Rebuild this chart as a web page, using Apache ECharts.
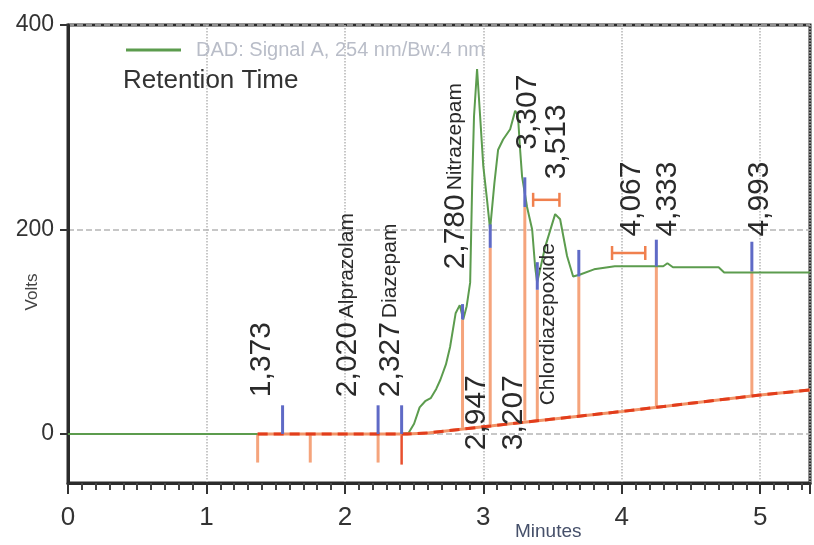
<!DOCTYPE html>
<html>
<head>
<meta charset="utf-8">
<script src="https://cdn.jsdelivr.net/npm/echarts@6/dist/echarts.min.js"></script>
<style>
  html, body { margin: 0; padding: 0; background: #fff; }
  #chart { width: 814px; height: 545px; }
</style>
</head>
<body>
<div id="chart"></div>
<script>
// DAD signal, [minutes, volts]
const signal = [
    [0, 0], [2.40, 0], [2.46, 1], [2.50, 10], [2.54, 26], [2.58, 32], [2.62, 35],
    [2.66, 44], [2.69, 53], [2.73, 68], [2.76, 85], [2.80, 118], [2.83, 126],
    [2.855, 112], [2.88, 125], [2.905, 148], [2.92, 246], [2.933, 311], [2.955, 357],
    [2.977, 311], [3.00, 262], [3.027, 229], [3.049, 200], [3.08, 245], [3.107, 278],
    [3.143, 288], [3.194, 298], [3.23, 316], [3.25, 312], [3.266, 278], [3.28, 252],
    [3.316, 222], [3.353, 200], [3.374, 164], [3.389, 148], [3.447, 183], [3.519, 215],
    [3.555, 210], [3.605, 174], [3.649, 154], [3.70, 156], [3.80, 161], [3.95, 164],
    [4.30, 164], [4.33, 167], [4.37, 163], [4.70, 163], [4.74, 158], [5.36, 158]
];
// integration baseline
const baseline = [[1.37, 0], [2.45, 0], [2.60, 1], [3.00, 7], [4.00, 22], [5.00, 38], [5.36, 43]];
// peak start/end marks: [minutes, low, high]
const orangeDrops = [
    [1.37, -28, 0], [1.75, -28, 0], [2.24, -28, 0],
    [2.85, 6, 112], [3.05, 9, 182], [3.30, 13, 222], [3.39, 14, 141],
    [3.69, 18, 154], [4.25, 27, 164], [4.94, 37, 159]
];
const redDrops = [[2.41, -30, 0]];
const blueTicks = [
    [1.55, 0, 28], [2.24, 0, 28], [2.41, 0, 28], [2.85, 112, 127], [3.05, 182, 205],
    [3.30, 222, 251], [3.39, 141, 168], [3.69, 154, 180], [4.25, 164, 190], [4.94, 159, 188]
];
// [from, to, volts]
const errorBars = [[3.36, 3.55, 229], [3.93, 4.17, 177]];
// [minutes, volts at label start, retention time, compound]
const peakLabels = [
    [1.40, 36, '1,373', ''],
    [2.02, 36, '2,020', 'Alprazolam'],
    [2.33, 36, '2,327', 'Diazepam'],
    [2.80, 161, '2,780', 'Nitrazepam'],
    [2.955, -16, '2,947', ''],
    [3.22, -16, '3,207', ''],
    [3.32, 278, '3,307', ''],
    [3.53, 249, '3,513', ''],
    [3.47, 28, '', 'Chlordiazepoxide'],
    [4.07, 193, '4,067', ''],
    [4.33, 193, '4,333', ''],
    [5.00, 193, '4,993', '']
];
const yTicks = [0, 200, 400];

const FONT = 'Liberation Sans';

function segments(color, width) {
    return function (params, api) {
        const a = api.coord([api.value(0), api.value(1)]);
        const b = api.coord([api.value(0), api.value(2)]);
        return {
            type: 'line',
            shape: { x1: a[0], y1: a[1], x2: b[0], y2: b[1] },
            style: { stroke: color, lineWidth: width }
        };
    };
}

const chart = echarts.init(document.getElementById('chart'));
chart.setOption({
    animation: false,
    textStyle: { fontFamily: FONT },
    title: {
        text: 'Retention Time',
        left: 118, top: 63,
        textStyle: { fontFamily: FONT, fontSize: 26, fontWeight: 'normal', color: '#333' }
    },
    legend: {
        data: ['DAD: Signal A, 254 nm/Bw:4 nm'],
        left: 121, top: 35,
        icon: 'rect', itemWidth: 55, itemHeight: 3,
        textStyle: { fontFamily: FONT, fontSize: 20, color: '#b9bdc8', padding: [0, 0, 0, 10] }
    },
    grid: {
        left: 68, right: 4, top: 25, bottom: 62,
        show: true, borderColor: '#2b2b2b', borderWidth: 3
    },
    xAxis: {
        type: 'value', min: 0, max: 5.36, interval: 1,
        axisLine: { onZero: false, lineStyle: { color: '#2b2b2b', width: 3 } },
        axisTick: { length: 11, lineStyle: { color: '#333', width: 2 } },
        minorTick: { show: true, splitNumber: 10, length: 7, lineStyle: { color: '#444', width: 2 } },
        splitLine: { show: true, lineStyle: { color: '#b5b5b5', type: 'dotted', width: 1.5 } },
        axisLabel: { fontSize: 26, color: '#333', margin: 22, showMaxLabel: false }
    },
    yAxis: {
        type: 'value', min: -48, max: 400,
        axisLine: { show: true, onZero: false, lineStyle: { color: '#2b2b2b', width: 3 } },
        axisTick: { show: true, customValues: yTicks, length: 8, lineStyle: { color: '#333', width: 2 } },
        splitLine: { show: true, lineStyle: { color: '#b5b5b5', type: 'dashed', width: 1.5 } },
        axisLabel: { customValues: yTicks, fontSize: 23, color: '#333', margin: 14 }
    },
    graphic: [
        {
            type: 'text', x: 32, y: 292, rotation: Math.PI / 2,
            style: { text: 'Volts', font: '17px "Liberation Sans"', fill: '#444',
                     align: 'center', verticalAlign: 'middle' }
        },
        {
            type: 'text', left: 515, top: 522,
            style: { text: 'Minutes', font: '19px "Liberation Sans"', fill: '#46506a' }
        }
    ],
    series: [
        {
            type: 'custom', data: orangeDrops, renderItem: segments('#f5a47c', 3), z: 3, silent: true
        },
        {
            type: 'custom', data: redDrops, renderItem: segments('#e8502e', 2.5), z: 3, silent: true
        },
        {
            name: 'DAD: Signal A, 254 nm/Bw:4 nm',
            type: 'line', data: signal, symbol: 'none', z: 4,
            itemStyle: { color: '#5c9c4e' },
            lineStyle: { color: '#5c9c4e', width: 2 }
        },
        {
            type: 'line', data: baseline, symbol: 'none', silent: true, z: 5,
            lineStyle: { color: '#f19468', width: 3 }
        },
        {
            type: 'line', data: baseline, symbol: 'none', silent: true, z: 5,
            lineStyle: { color: '#e23d1c', width: 3, type: [10, 6] }
        },
        {
            type: 'custom', data: blueTicks, renderItem: segments('#5f6ac6', 3), z: 6, silent: true
        },
        {
            type: 'custom', data: errorBars, z: 6, silent: true,
            renderItem: function (params, api) {
                const a = api.coord([api.value(0), api.value(2)]);
                const b = api.coord([api.value(1), api.value(2)]);
                const st = { stroke: '#f0804e', lineWidth: 2.5 };
                return {
                    type: 'group',
                    children: [
                        { type: 'line', shape: { x1: a[0], y1: a[1], x2: b[0], y2: b[1] }, style: st },
                        { type: 'line', shape: { x1: a[0], y1: a[1] - 7, x2: a[0], y2: a[1] + 7 }, style: st },
                        { type: 'line', shape: { x1: b[0], y1: b[1] - 7, x2: b[0], y2: b[1] + 7 }, style: st }
                    ]
                };
            }
        },
        {
            type: 'custom', z: 7, silent: true,
            data: peakLabels.map(function (d) { return [d[0], d[1]]; }),
            renderItem: function (params, api) {
                const d = peakLabels[params.dataIndex];
                const p = api.coord([api.value(0), api.value(1)]);
                let txt;
                if (d[2] && d[3]) txt = '{n|' + d[2] + '}{s| }{m|' + d[3] + '}';
                else if (d[2]) txt = '{n|' + d[2] + '}';
                else txt = '{m|' + d[3] + '}';
                return {
                    type: 'text', x: p[0], y: p[1], rotation: Math.PI / 2,
                    style: {
                        text: txt, align: 'left', verticalAlign: 'middle',
                        rich: {
                            n: { fontFamily: FONT, fontSize: 30, fill: '#2a2a2a', verticalAlign: 'middle' },
                            s: { fontFamily: FONT, fontSize: 14, verticalAlign: 'middle' },
                            m: { fontFamily: FONT, fontSize: 21, fill: '#2a2a2a', verticalAlign: 'middle' }
                        }
                    }
                };
            }
        }
    ]
});
</script>
</body>
</html>
